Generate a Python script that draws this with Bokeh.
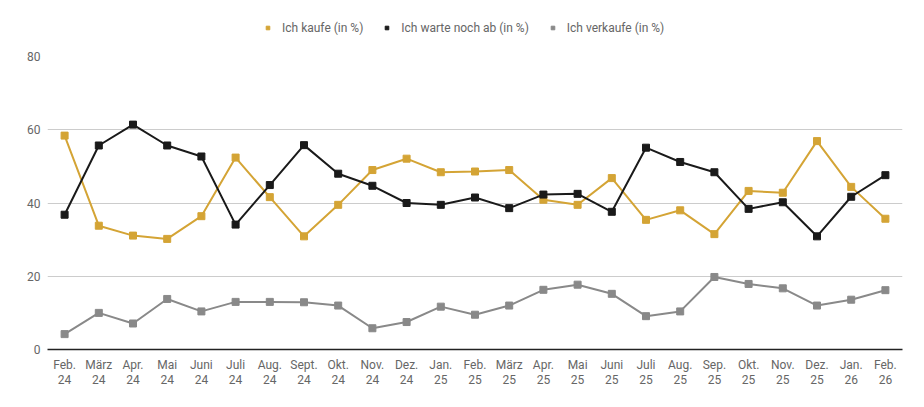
from bokeh.plotting import figure
from bokeh.layouts import column
from bokeh.models import Range1d, FixedTicker, Legend, LegendItem, ColumnDataSource, LinearAxis
from bokeh.embed import file_html
from bokeh.resources import INLINE

months = ["Feb.", "März", "Apr.", "Mai", "Juni", "Juli", "Aug.", "Sept.", "Okt.", "Nov.", "Dez.", "Jan.",
          "Feb.", "März", "Apr.", "Mai", "Juni", "Juli", "Aug.", "Sep.", "Okt.", "Nov.", "Dez.", "Jan.", "Feb."]
years = ["24", "24", "24", "24", "24", "24", "24", "24", "24", "24", "24", "25", "25", "25", "25", "25",
         "25", "25", "25", "25", "25", "25", "25", "26", "26"]
kaufe = [58.4, 33.8, 31.1, 30.2, 36.4, 52.4, 41.6, 30.9, 39.5, 49.0, 52.1, 48.4, 48.6, 49.0, 40.9, 39.5,
         46.8, 35.4, 38.0, 31.5, 43.3, 42.8, 56.9, 44.4, 35.7]
warte = [36.8, 55.7, 61.4, 55.7, 52.7, 34.1, 44.9, 55.8, 48.0, 44.7, 40.0, 39.5, 41.5, 38.6, 42.3, 42.5,
         37.6, 55.1, 51.2, 48.4, 38.4, 40.2, 30.9, 41.7, 47.6]
verkaufe = [4.2, 10.0, 7.1, 13.8, 10.4, 13.0, 13.0, 12.9, 12.0, 5.8, 7.5, 11.7, 9.5, 12.0, 16.3, 17.7,
            15.2, 9.1, 10.4, 19.8, 17.9, 16.7, 12.0, 13.6, 16.2]
series_names = ["Ich kaufe (in %)", "Ich warte noch ab (in %)", "Ich verkaufe (in %)"]
y_ticks = [0, 20, 40, 60, 80]

colors = ["#D4A435", "#1A1A1A", "#898989"]
FONT = "Roboto"
LABEL_COLOR = "#666666"

x = list(range(len(months)))

p = figure(width=908, height=339, output_backend="svg", toolbar_location=None,
           x_range=Range1d(-0.5, len(months) - 0.5), y_range=Range1d(0, 80),
           min_border_left=47, min_border_right=6, min_border_top=9, min_border_bottom=10)
p.outline_line_color = None
p.background_fill_color = "white"

p.xaxis.ticker = FixedTicker(ticks=x)
p.xaxis.major_label_overrides = {i: l for i, l in enumerate(months)}
p.xaxis.major_tick_line_color = None
p.xaxis.major_tick_out = 0
p.xaxis.minor_tick_line_color = None
p.xaxis.minor_tick_out = 0
p.xaxis.axis_line_color = "#222222"
p.xaxis.axis_line_width = 1.5
p.xaxis.major_label_text_font = FONT
p.xaxis.major_label_text_font_size = "12px"
p.xaxis.major_label_text_color = LABEL_COLOR
p.xaxis.major_label_standoff = 8

year_axis = LinearAxis(ticker=FixedTicker(ticks=x),
                       major_label_overrides={i: l for i, l in enumerate(years)})
year_axis.axis_line_color = None
year_axis.major_tick_line_color = None
year_axis.major_tick_out = 0
year_axis.minor_tick_line_color = None
year_axis.minor_tick_out = 0
year_axis.major_label_text_font = FONT
year_axis.major_label_text_font_size = "12px"
year_axis.major_label_text_color = LABEL_COLOR
year_axis.major_label_standoff = 0
p.add_layout(year_axis, "below")

p.yaxis.ticker = FixedTicker(ticks=y_ticks)
p.yaxis.axis_line_color = None
p.yaxis.major_tick_line_color = None
p.yaxis.major_tick_out = 0
p.yaxis.minor_tick_line_color = None
p.yaxis.minor_tick_out = 0
p.yaxis.major_label_text_font = FONT
p.yaxis.major_label_text_font_size = "12px"
p.yaxis.major_label_text_color = LABEL_COLOR
p.yaxis.major_label_standoff = 7

p.xgrid.grid_line_color = None
p.ygrid.ticker = FixedTicker(ticks=y_ticks)
p.ygrid.grid_line_color = "#CCCCCC"
p.ygrid.grid_line_width = 1

for vals, c in zip([kaufe, warte, verkaufe], colors):
    src = ColumnDataSource(dict(x=x, y=vals))
    p.line("x", "y", source=src, line_color=c, line_width=2)
    p.scatter("x", "y", source=src, marker="square", size=7, fill_color=c, line_color=c)

# legend in its own strip above the chart (series drawn outside the strip's visible range)
lg = figure(width=908, height=47, output_backend="svg", toolbar_location=None,
            x_range=Range1d(0, 1), y_range=Range1d(0, 1),
            min_border_left=47, min_border_right=6, min_border_top=8, min_border_bottom=0)
lg.axis.visible = False
lg.grid.visible = False
lg.outline_line_color = None
items = []
for name, vals, c in zip(series_names, [kaufe, warte, verkaufe], colors):
    r = lg.scatter(x=x, y=vals, marker="square", size=8, fill_color=c, line_color=c)
    items.append(LegendItem(label=name, renderers=[r]))
legend = Legend(items=items, orientation="horizontal", location="center_left",
                label_text_font=FONT, label_text_font_size="12px", label_text_color=LABEL_COLOR,
                border_line_color=None, background_fill_alpha=0, spacing=19, glyph_width=9,
                glyph_height=9, label_standoff=10, padding=0, margin=216)
lg.add_layout(legend, "center")

layout = column(lg, p, spacing=0)
open("out.html", "w").write(file_html(layout, INLINE))
